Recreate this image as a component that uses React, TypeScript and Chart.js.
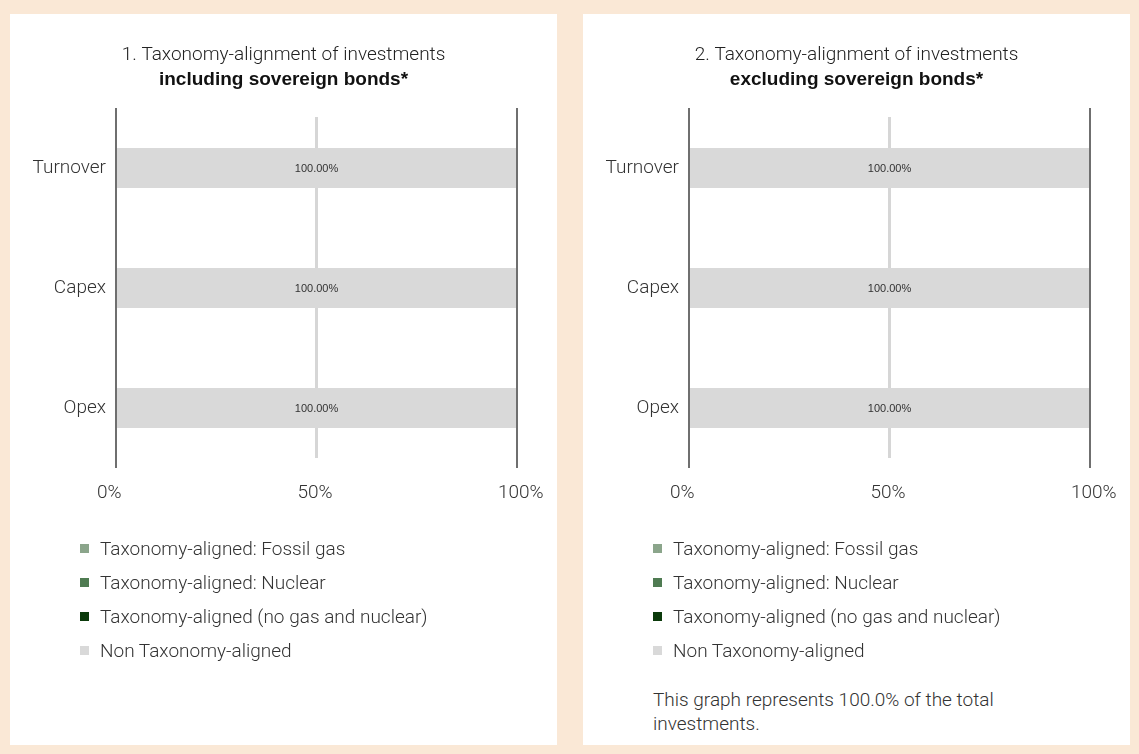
import React, { useEffect, useRef } from "react";
import { Chart, registerables } from "chart.js";

Chart.register(...registerables);

const categories = ["Turnover", "Capex", "Opex"];
const seriesNames = [
  "Taxonomy-aligned: Fossil gas",
  "Taxonomy-aligned: Nuclear",
  "Taxonomy-aligned (no gas and nuclear)",
  "Non Taxonomy-aligned",
];
const seriesColors = ["#8ba58b", "#4f7b52", "#0b3a0b", "#d9d9d9"];

const fossilGasIncl = [0, 0, 0];
const nuclearIncl = [0, 0, 0];
const alignedIncl = [0, 0, 0];
const nonAlignedIncl = [100, 100, 100];

const fossilGasExcl = [0, 0, 0];
const nuclearExcl = [0, 0, 0];
const alignedExcl = [0, 0, 0];
const nonAlignedExcl = [100, 100, 100];

const xTicks = [0, 50, 100];

const titles = [
  ["1. Taxonomy-alignment of investments", "including sovereign bonds*"],
  ["2. Taxonomy-alignment of investments", "excluding sovereign bonds*"],
];
const noteText = "This graph represents 100.0% of the total investments.";

const LIGHT = "Roboto, 'Liberation Sans', sans-serif";
const BOLD = "'Liberation Sans', Arial, sans-serif";

const linesPlugin = {
  id: "customLines",
  beforeDatasetsDraw(chart: any) {
    const { ctx, chartArea, scales } = chart;
    const xs = scales.x;
    ctx.save();
    xs.ticks.forEach((t: any, i: number) => {
      if (i === 0 || i === xs.ticks.length - 1) return;
      const x = xs.getPixelForValue(t.value);
      ctx.strokeStyle = "#d6d6d6";
      ctx.lineWidth = 3;
      ctx.beginPath();
      ctx.moveTo(x, chartArea.top + 9);
      ctx.lineTo(x, chartArea.bottom - 10);
      ctx.stroke();
    });
    ctx.restore();
  },
  afterDatasetsDraw(chart: any) {
    const { ctx, chartArea, scales } = chart;
    const xs = scales.x;
    ctx.save();
    xs.ticks.forEach((t: any, i: number) => {
      if (!(i === 0 || i === xs.ticks.length - 1)) return;
      const x = xs.getPixelForValue(t.value);
      ctx.strokeStyle = "#6f6f6f";
      ctx.lineWidth = 2;
      ctx.beginPath();
      ctx.moveTo(x, chartArea.top);
      ctx.lineTo(x, chartArea.bottom);
      ctx.stroke();
    });
    ctx.font = "11px 'Liberation Sans', Arial, sans-serif";
    ctx.fillStyle = "#333333";
    ctx.textAlign = "center";
    ctx.textBaseline = "middle";
    chart.data.datasets.forEach((ds: any, di: number) => {
      const meta = chart.getDatasetMeta(di);
      meta.data.forEach((el: any, i: number) => {
        const v = ds.data[i];
        if (!v) return;
        const cx = (el.x + el.base) / 2;
        ctx.fillText(v.toFixed(2) + "%", cx, el.y + 1);
      });
    });
    ctx.restore();
  },
};

function Panel({
  left,
  title,
  series,
  note,
}: {
  left: number;
  title: string[];
  series: number[][];
  note?: string;
}) {
  const ref = useRef<HTMLCanvasElement>(null);
  useEffect(() => {
    if (!ref.current) return;
    const chart = new Chart(ref.current, {
      type: "bar",
      data: {
        labels: categories,
        datasets: series.map((d, i) => ({
          label: seriesNames[i],
          data: d,
          backgroundColor: seriesColors[i],
          borderWidth: 0,
          categoryPercentage: 1,
          barPercentage: 1 / 3,
        })),
      },
      options: {
        indexAxis: "y",
        responsive: false,
        animation: false,
        devicePixelRatio: 1,
        layout: { padding: 0 },
        plugins: {
          legend: { display: false },
          tooltip: { enabled: false },
          title: {
            display: true,
            text: title[0],
            color: "#222222",
            font: { family: LIGHT, size: 19, weight: "300", lineHeight: 1.2 },
            padding: { top: 30, bottom: 0 },
          },
          subtitle: {
            display: true,
            text: title[1],
            color: "#111111",
            font: { family: BOLD, size: 19, weight: "bold", lineHeight: 1.2 },
            padding: { top: 2, bottom: 16.4 },
          },
        },
        scales: {
          x: {
            stacked: true,
            min: 0,
            max: 100,
            afterBuildTicks(scale: any) {
              scale.ticks = xTicks.map((v) => ({ value: v }));
            },
            afterFit(scale: any) {
              scale.height = 66;
              scale.paddingRight = 40;
              scale.paddingLeft = 0;
            },
            grid: { display: false, drawTicks: false },
            border: { display: false },
            ticks: {
              padding: 14,
              align: "start",
              labelOffset: -19,
              color: "#333333",
              font: { family: LIGHT, size: 19, weight: "300" },
              callback: (v: any) => v + "%",
              maxRotation: 0,
              autoSkip: false,
            },
          },
          y: {
            stacked: true,
            afterFit(scale: any) {
              scale.width = 106;
            },
            grid: { display: false, drawTicks: false },
            border: { display: false },
            ticks: {
              padding: 10,
              color: "#333333",
              font: { family: LIGHT, size: 19, weight: "300" },
            },
          },
        },
      },
      plugins: [linesPlugin],
    } as any);
    return () => chart.destroy();
  }, []);

  return (
    <div
      style={{
        position: "absolute",
        left,
        top: 14,
        width: 547,
        height: 731,
        background: "#ffffff",
      }}
    >
      <canvas
        ref={ref}
        width={547}
        height={520}
        style={{ position: "absolute", left: 0, top: 0, width: 547, height: 520 }}
      />
      <div style={{ position: "absolute", left: 70, top: 517 }}>
        {seriesNames.map((n, i) => (
          <div
            key={n}
            style={{
              height: 34,
              display: "flex",
              alignItems: "center",
              fontFamily: LIGHT,
              fontWeight: 300,
              fontSize: 19,
              color: "#333333",
              whiteSpace: "nowrap",
            }}
          >
            <span
              style={{
                display: "inline-block",
                width: 9,
                height: 9,
                background: seriesColors[i],
                marginRight: 11,
              }}
            />
            {n}
          </div>
        ))}
      </div>
      {note && (
        <div
          style={{
            position: "absolute",
            left: 70,
            top: 674,
            width: 390,
            fontFamily: LIGHT,
            fontWeight: 300,
            fontSize: 19,
            lineHeight: "24px",
            color: "#333333",
          }}
        >
          {note}
        </div>
      )}
    </div>
  );
}

export default function App() {
  return (
    <div
      style={{
        position: "fixed",
        left: 0,
        top: 0,
        width: 1139,
        height: 754,
        background: "#fae8d6",
        overflow: "hidden",
      }}
    >
      <Panel
        left={10}
        title={titles[0]}
        series={[fossilGasIncl, nuclearIncl, alignedIncl, nonAlignedIncl]}
      />
      <Panel
        left={583}
        title={titles[1]}
        series={[fossilGasExcl, nuclearExcl, alignedExcl, nonAlignedExcl]}
        note={noteText}
      />
    </div>
  );
}
